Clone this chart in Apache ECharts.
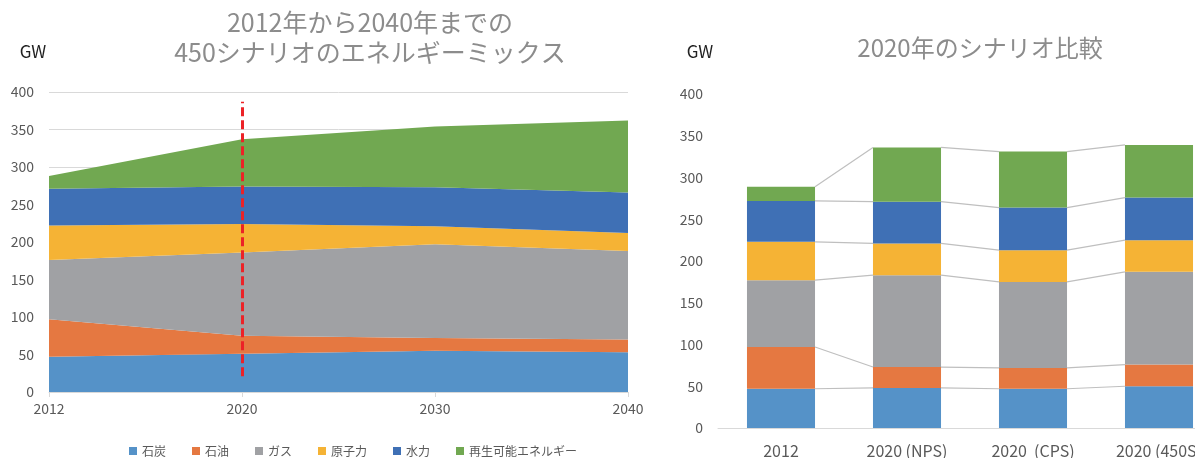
<!DOCTYPE html>
<html>
<head>
<meta charset="utf-8">
<script src="https://cdn.jsdelivr.net/npm/echarts@6/dist/echarts.min.js"></script>
<style>
  html, body { margin: 0; padding: 0; background: #fff; }
  #chart { width: 1195px; height: 458px; }
</style>
</head>
<body>
<div id="chart"></div>
<script>
// left: 450 scenario mix over time
const years = ['2012', '2020', '2030', '2040'];
const coal450 = [47, 51, 55, 53];
const oil450 = [50, 24, 17, 17];
const gas450 = [79, 111, 125, 118];
const nuclear450 = [46, 38, 24, 24];
const hydro450 = [49, 50, 52, 54];
const renew450 = [17, 63, 81, 96];

// right: 2020 scenarios
const scenarios = ['2012', '2020 (NPS)', '2020  (CPS)', '2020 (450S)'];
const coal2020 = [47, 48, 47, 50];
const oil2020 = [50, 25, 25, 26];
const gas2020 = [80, 110, 103, 111];
const nuclear2020 = [46, 38, 38, 38];
const hydro2020 = [49, 50, 51, 51];
const renew2020 = [17, 65, 67, 63];

const names = ['石炭', '石油', 'ガス', '原子力', '水力', '再生可能エネルギー'];
const colors = ['#5592c8', '#e57841', '#a0a1a4', '#f5b335', '#3f70b5', '#71a851'];
const yTicks = [0, 400, 50]; // min, max, interval

const left = [coal450, oil450, gas450, nuclear450, hydro450, renew450];
const right = [coal2020, oil2020, gas2020, nuclear2020, hydro2020, renew2020];

const font = '"Noto Sans CJK JP", "Noto Sans", sans-serif';
const labelColor = '#595959';
const gridColor = '#d9d9d9';
const barWidthRatio = 0.54;

// cumulative tops for the connector lines between bars
const connectorData = [];
const running = scenarios.map(() => 0);
right.forEach(arr => {
  arr.forEach((v, i) => { running[i] += v; });
  for (let i = 0; i < scenarios.length - 1; i++) {
    connectorData.push([i, running[i], running[i + 1]]);
  }
});

const series = [];
left.forEach((arr, k) => {
  const s = {
    name: names[k],
    type: 'line',
    stack: 'mix',
    xAxisIndex: 0,
    yAxisIndex: 0,
    data: arr,
    showSymbol: false,
    symbol: 'none',
    lineStyle: { width: 0 },
    areaStyle: { color: colors[k], opacity: 1 },
    itemStyle: { color: colors[k] },
    silent: true
  };
  if (k === left.length - 1) {
    s.markLine = {
      symbol: 'none',
      silent: true,
      label: { show: false },
      lineStyle: { color: '#ec2227', width: 3, type: [9, 4] },
      data: [[{ coord: ['2020', 21] }, { coord: ['2020', 387] }]]
    };
  }
  series.push(s);
});
right.forEach((arr, k) => {
  series.push({
    name: names[k],
    type: 'bar',
    stack: 'cmp',
    xAxisIndex: 1,
    yAxisIndex: 1,
    barWidth: (barWidthRatio * 100) + '%',
    data: arr,
    itemStyle: { color: colors[k] },
    silent: true
  });
});
series.push({
  type: 'custom',
  xAxisIndex: 1,
  yAxisIndex: 1,
  silent: true,
  data: connectorData,
  encode: { x: 0, y: 1 },
  renderItem: (params, api) => {
    const i = api.value(0);
    const p1 = api.coord([i, api.value(1)]);
    const p2 = api.coord([i + 1, api.value(2)]);
    const half = api.size([1, 0])[0] * barWidthRatio / 2;
    return {
      type: 'line',
      shape: { x1: p1[0] + half, y1: p1[1], x2: p2[0] - half, y2: p2[1] },
      style: { stroke: '#bfbfbf', lineWidth: 1.2 }
    };
  }
});

const titleStyle = { fill: '#8c8c8c', fontFamily: font, align: 'center', verticalAlign: 'middle' };
const gwStyle = { fill: '#222', fontSize: 17, fontFamily: font, align: 'center', verticalAlign: 'middle' };

const option = {
  animation: false,
  textStyle: { fontFamily: font },
  graphic: [
    { type: 'text', x: 370, y: 22, style: Object.assign({ text: '2012年から2040年までの', fontSize: 25 }, titleStyle) },
    { type: 'text', x: 370, y: 52, style: Object.assign({ text: '450シナリオのエネルギーミックス', fontSize: 25 }, titleStyle) },
    { type: 'text', x: 980, y: 48, style: Object.assign({ text: '2020年のシナリオ比較', fontSize: 24 }, titleStyle) },
    { type: 'text', x: 33, y: 52, style: Object.assign({ text: 'GW' }, gwStyle) },
    { type: 'text', x: 700, y: 52, style: Object.assign({ text: 'GW' }, gwStyle) }
  ],
  legend: {
    data: names,
    left: 124,
    top: 440,
    itemWidth: 8,
    itemHeight: 8,
    itemGap: 26,
    icon: 'rect',
    textStyle: { color: labelColor, fontSize: 12, fontFamily: font }
  },
  grid: [
    { left: 49, right: 567, top: 92, bottom: 66, outerBoundsMode: 'none' },
    { left: 718, right: -27, top: 94, bottom: 30, outerBoundsMode: 'none' }
  ],
  xAxis: [
    {
      type: 'category',
      gridIndex: 0,
      data: years,
      boundaryGap: false,
      axisLine: { lineStyle: { color: gridColor } },
      axisTick: { show: true, length: 5, lineStyle: { color: gridColor } },
      axisLabel: { color: labelColor, fontSize: 14, margin: 10 }
    },
    {
      type: 'category',
      gridIndex: 1,
      data: scenarios,
      axisLine: { lineStyle: { color: gridColor } },
      axisTick: { show: false },
      axisLabel: { color: labelColor, fontSize: 16, margin: 15, interval: 0 }
    }
  ],
  yAxis: [
    {
      type: 'value',
      gridIndex: 0,
      min: yTicks[0],
      max: yTicks[1],
      interval: yTicks[2],
      axisLine: { show: false },
      axisTick: { show: false },
      splitLine: { lineStyle: { color: gridColor } },
      axisLabel: { color: labelColor, fontSize: 14, margin: 15 }
    },
    {
      type: 'value',
      gridIndex: 1,
      min: yTicks[0],
      max: yTicks[1],
      interval: yTicks[2],
      axisLine: { show: false },
      axisTick: { show: false },
      splitLine: { show: false },
      axisLabel: { color: labelColor, fontSize: 14, margin: 15 }
    }
  ],
  series: series
};

const chart = echarts.init(document.getElementById('chart'), null, { renderer: 'canvas' });
chart.setOption(option);
</script>
</body>
</html>
